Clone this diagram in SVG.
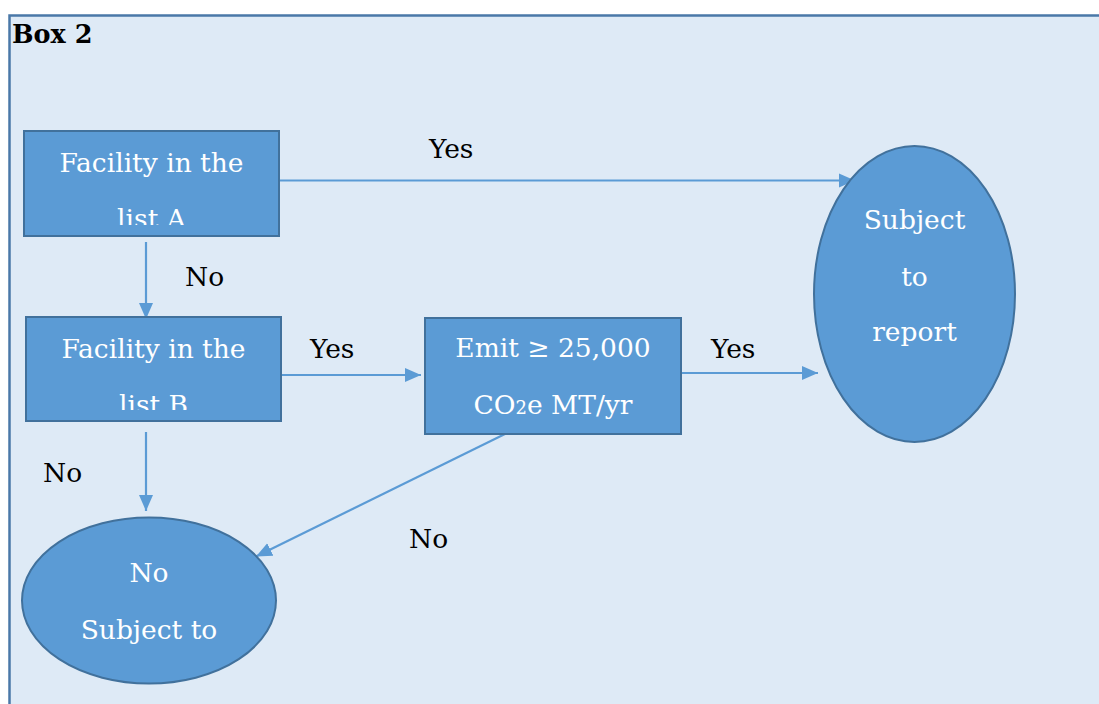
<svg xmlns="http://www.w3.org/2000/svg" width="1099" height="704" viewBox="0 0 1099 704">
<style>
.frame{fill:#deeaf6;stroke:#4a78a8;stroke-width:2.5}
.node{fill:#5b9bd5;stroke:#41719c;stroke-width:2}
.nt{font-family:"DejaVu Serif","Liberation Serif",serif;font-size:26.5px;fill:#ffffff;text-anchor:middle}
.lb{font-family:"DejaVu Serif","Liberation Serif",serif;font-size:26.5px;fill:#000000}
.title{font-family:"DejaVu Serif","Liberation Serif",serif;font-size:25.5px;font-weight:bold;fill:#000000}
.edge{stroke:#5b9bd5;stroke-width:2.2;fill:none;marker-end:url(#arr)}
</style>
<defs>
<marker id="arr" markerUnits="userSpaceOnUse" markerWidth="18" markerHeight="18" refX="16" refY="9" orient="auto">
<path d="M0,2 L16,9 L0,16 Z" fill="#5b9bd5"/>
</marker>
<clipPath id="clipA"><rect x="24" y="131" width="255" height="94"/></clipPath>
<clipPath id="clipB"><rect x="26" y="317" width="255" height="93"/></clipPath>
</defs>
<rect class="frame" x="9.5" y="15.5" width="1100" height="700"/>
<text class="title" x="12" y="43">Box 2</text>
<g id="connectors">
<line class="edge" x1="279" y1="180.5" x2="855" y2="180.5"/>
<line class="edge" x1="146" y1="242" x2="146" y2="319"/>
<line class="edge" x1="282" y1="375" x2="421" y2="375"/>
<line class="edge" x1="681" y1="373" x2="818" y2="373"/>
<line class="edge" x1="146" y1="432" x2="146" y2="511"/>
<line class="edge" x1="509" y1="432" x2="256" y2="556.5"/>
</g>
<g id="labels">
<text class="lb" x="429" y="158">Yes</text>
<text class="lb" x="185" y="286">No</text>
<text class="lb" x="310" y="358">Yes</text>
<text class="lb" x="711" y="358">Yes</text>
<text class="lb" x="43" y="482">No</text>
<text class="lb" x="409" y="548">No</text>
</g>
<g id="nodeA">
<rect class="node" x="24" y="131" width="255" height="105"/>
<g clip-path="url(#clipA)">
<text class="nt" x="151.5" y="172">Facility in the</text>
<text class="nt" x="151.5" y="228">list A</text>
</g>
</g>
<g id="nodeB">
<rect class="node" x="26" y="317" width="255" height="104"/>
<g clip-path="url(#clipB)">
<text class="nt" x="153.5" y="358">Facility in the</text>
<text class="nt" x="153.5" y="414">list B</text>
</g>
</g>
<g id="nodeEmit">
<rect class="node" x="425" y="318" width="256" height="116"/>
<text class="nt" x="553" y="357">Emit ≥ 25,000</text>
<text class="nt" x="553" y="414">CO<tspan font-size="18">2</tspan>e MT/yr</text>
</g>
<g id="nodeReport">
<ellipse class="node" cx="914.5" cy="294" rx="100.5" ry="148"/>
<text class="nt" x="914.5" y="229">Subject</text>
<text class="nt" x="914.5" y="286">to</text>
<text class="nt" x="914.5" y="341">report</text>
</g>
<g id="nodeNo">
<ellipse class="node" cx="149" cy="600.5" rx="127" ry="83"/>
<text class="nt" x="149" y="582">No</text>
<text class="nt" x="149" y="639">Subject to</text>
</g>
</svg>
